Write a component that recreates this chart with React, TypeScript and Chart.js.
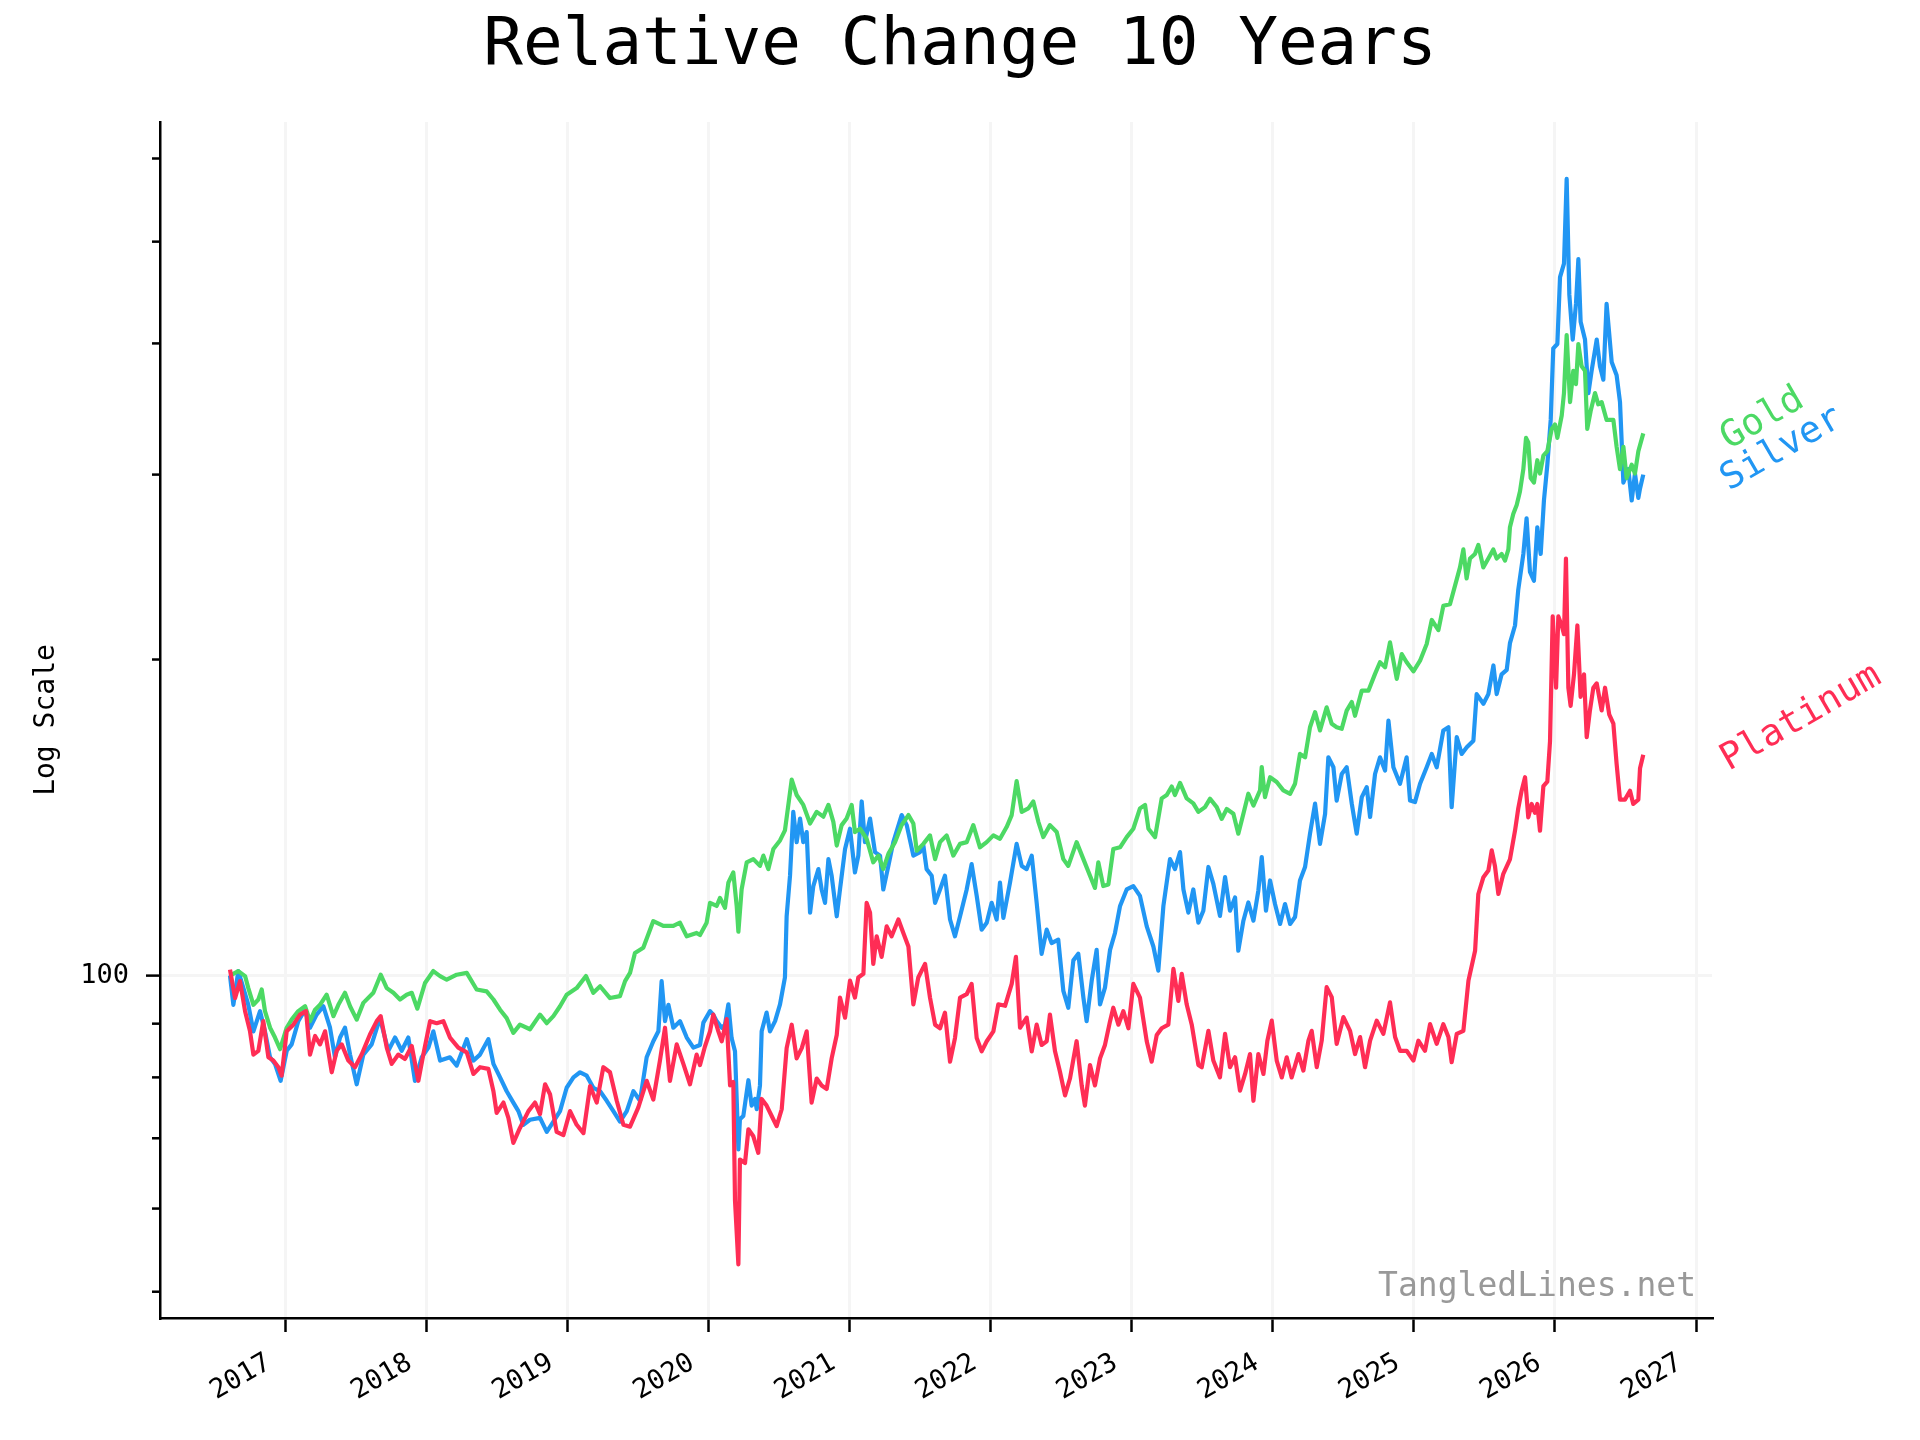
import React, { useEffect, useRef } from 'react';
import Chart from 'chart.js/auto';

const FONT = '"DejaVu Sans Mono", monospace';

// x axis: decimal years
const yearTicks = [2017, 2018, 2019, 2020, 2021, 2022, 2023, 2024, 2025, 2026, 2027];
// y axis: log scale, only the 100 line is labelled
const logTicks = [50, 60, 70, 80, 90, 100, 200, 300, 400, 500, 600];
const labelledTick = 100;

const metalNames = ['Gold', 'Silver', 'Platinum'];
const metalColors = ['#4cd964', '#2196f3', '#ff2d55'];

const goldDates = [
    2016.610, 2016.669, 2016.717, 2016.740, 2016.776, 2016.811, 2016.835, 2016.858, 2016.894, 2016.929,
    2016.965, 2017.012, 2017.047, 2017.094, 2017.142, 2017.177, 2017.213, 2017.248, 2017.295, 2017.343,
    2017.378, 2017.425, 2017.461, 2017.508, 2017.555, 2017.626, 2017.678, 2017.721, 2017.768, 2017.815,
    2017.862, 2017.898, 2017.938, 2017.992, 2018.051, 2018.099, 2018.146, 2018.217, 2018.288, 2018.358,
    2018.429, 2018.477, 2018.524, 2018.571, 2018.618, 2018.665, 2018.736, 2018.807, 2018.855, 2018.902,
    2018.949, 2018.996, 2019.067, 2019.133, 2019.185, 2019.233, 2019.303, 2019.374, 2019.410, 2019.445,
    2019.480, 2019.539, 2019.610, 2019.681, 2019.752, 2019.799, 2019.847, 2019.917, 2019.941, 2019.988,
    2020.012, 2020.059, 2020.083, 2020.118, 2020.142, 2020.177, 2020.201, 2020.213, 2020.236, 2020.272,
    2020.319, 2020.366, 2020.390, 2020.425, 2020.461, 2020.508, 2020.543, 2020.567, 2020.591, 2020.626,
    2020.673, 2020.721, 2020.768, 2020.815, 2020.851, 2020.886, 2020.910, 2020.945, 2020.980, 2021.016,
    2021.039, 2021.075, 2021.122, 2021.169, 2021.205, 2021.240, 2021.276, 2021.323, 2021.370, 2021.418,
    2021.453, 2021.477, 2021.524, 2021.571, 2021.607, 2021.642, 2021.689, 2021.736, 2021.784, 2021.831,
    2021.878, 2021.925, 2021.973, 2022.020, 2022.067, 2022.114, 2022.150, 2022.185, 2022.221, 2022.268,
    2022.303, 2022.339, 2022.374, 2022.421, 2022.469, 2022.516, 2022.551, 2022.610, 2022.658, 2022.705,
    2022.740, 2022.764, 2022.799, 2022.835, 2022.870, 2022.918, 2022.965, 2023.012, 2023.059, 2023.095,
    2023.119, 2023.166, 2023.213, 2023.249, 2023.284, 2023.307, 2023.343, 2023.390, 2023.437, 2023.473,
    2023.520, 2023.556, 2023.603, 2023.638, 2023.674, 2023.721, 2023.756, 2023.792, 2023.827, 2023.863,
    2023.910, 2023.922, 2023.945, 2023.981, 2024.028, 2024.075, 2024.123, 2024.158, 2024.193, 2024.229,
    2024.264, 2024.300, 2024.335, 2024.382, 2024.418, 2024.453, 2024.489, 2024.524, 2024.560, 2024.583,
    2024.631, 2024.678, 2024.725, 2024.760, 2024.796, 2024.831, 2024.879, 2024.914, 2024.949, 2024.997,
    2025.044, 2025.091, 2025.127, 2025.174, 2025.209, 2025.256, 2025.327, 2025.351, 2025.374, 2025.398,
    2025.433, 2025.457, 2025.492, 2025.528, 2025.563, 2025.587, 2025.622, 2025.646, 2025.670, 2025.681,
    2025.705, 2025.729, 2025.752, 2025.776, 2025.795, 2025.811, 2025.828, 2025.851, 2025.875, 2025.894,
    2025.918, 2025.946, 2025.977, 2026.000, 2026.017, 2026.048, 2026.064, 2026.083, 2026.107, 2026.130,
    2026.149, 2026.166, 2026.189, 2026.213, 2026.229, 2026.253, 2026.284, 2026.307, 2026.331, 2026.366,
    2026.414, 2026.437, 2026.461, 2026.485, 2026.508, 2026.544, 2026.567, 2026.591, 2026.626,
];
const goldValues = [
    100.0, 101.0, 99.9, 97.3, 93.8, 94.9, 97.0, 92.5, 89.2, 87.3,
    85.1, 89.2, 90.8, 92.5, 93.5, 90.5, 92.8, 93.8, 95.9, 91.5,
    93.8, 96.3, 93.5, 90.8, 94.2, 96.3, 100.2, 97.3, 96.3, 94.9,
    95.9, 96.3, 93.0, 98.4, 101.0, 99.9, 99.1, 100.2, 100.6, 97.0,
    96.6, 94.9, 92.8, 91.1, 88.2, 89.8, 88.9, 91.8, 90.1, 91.5,
    93.5, 95.9, 97.3, 99.9, 96.3, 97.7, 95.2, 95.6, 98.8, 100.6,
    105.1, 106.3, 112.7, 111.5, 111.5, 112.3, 109.0, 109.8, 109.3, 112.3,
    117.3, 116.5, 118.6, 116.0, 122.6, 125.4, 116.5, 110.1, 120.8, 128.2,
    129.1, 127.2, 130.1, 126.3, 132.0, 134.5, 137.5, 145.4, 153.7, 148.6,
    145.4, 139.6, 143.2, 141.7, 145.4, 140.1, 133.0, 139.1, 141.1, 145.4,
    137.0, 138.0, 135.0, 128.2, 130.1, 126.3, 130.6, 134.0, 139.1, 142.2,
    139.6, 131.5, 133.5, 136.0, 129.1, 134.0, 136.0, 130.1, 133.5, 134.0,
    139.1, 132.5, 134.0, 136.0, 135.0, 138.5, 142.2, 153.2, 143.2, 144.3,
    146.5, 140.1, 135.5, 139.1, 137.0, 129.1, 127.2, 134.0, 129.1, 124.5,
    121.2, 128.2, 121.7, 122.1, 132.0, 132.5, 135.5, 138.0, 144.3, 145.4,
    138.0, 135.5, 147.5, 148.6, 151.4, 148.6, 152.6, 147.5, 145.9, 143.2,
    144.7, 147.4, 144.7, 141.0, 144.1, 142.6, 136.5, 142.6, 149.0, 145.2,
    150.1, 158.0, 147.9, 154.5, 152.9, 150.1, 149.0, 152.3, 162.6, 161.4,
    172.4, 178.2, 171.2, 180.1, 173.7, 172.4, 171.8, 178.8, 182.2, 176.8,
    186.8, 186.8, 193.8, 198.8, 196.6, 207.7, 191.7, 202.4, 198.8, 194.9,
    199.5, 206.9, 218.1, 213.3, 225.0, 225.8, 244.8, 254.6, 238.9, 249.6,
    252.1, 257.1, 244.8, 249.6, 254.6, 249.6, 252.1, 248.4, 254.6, 267.3,
    275.3, 280.7, 289.1, 303.6, 325.2, 322.0, 297.7, 294.8, 309.6, 300.7,
    312.7, 315.8, 331.6, 334.9, 325.2, 341.5, 358.7, 407.4, 351.7, 376.7,
    365.8, 399.5, 380.4, 376.7, 331.6, 344.9, 358.7, 350.0, 351.7, 338.2,
    338.2, 318.9, 303.6, 318.9, 297.7, 306.6, 300.7, 315.8, 328.4,
];

const silverDates = [
    2016.610, 2016.634, 2016.669, 2016.705, 2016.740, 2016.776, 2016.823, 2016.858, 2016.894, 2016.929,
    2016.969, 2017.012, 2017.047, 2017.094, 2017.142, 2017.177, 2017.224, 2017.272, 2017.319, 2017.354,
    2017.390, 2017.425, 2017.461, 2017.508, 2017.555, 2017.614, 2017.673, 2017.732, 2017.780, 2017.827,
    2017.874, 2017.921, 2017.969, 2018.016, 2018.051, 2018.099, 2018.169, 2018.217, 2018.288, 2018.335,
    2018.382, 2018.441, 2018.477, 2018.524, 2018.571, 2018.618, 2018.654, 2018.689, 2018.736, 2018.807,
    2018.855, 2018.902, 2018.949, 2018.996, 2019.044, 2019.091, 2019.138, 2019.185, 2019.233, 2019.280,
    2019.327, 2019.374, 2019.422, 2019.469, 2019.516, 2019.563, 2019.610, 2019.646, 2019.669, 2019.693,
    2019.717, 2019.752, 2019.799, 2019.847, 2019.894, 2019.941, 2019.965, 2020.012, 2020.035, 2020.059,
    2020.095, 2020.118, 2020.142, 2020.165, 2020.189, 2020.201, 2020.213, 2020.224, 2020.248, 2020.284,
    2020.307, 2020.331, 2020.343, 2020.366, 2020.378, 2020.413, 2020.437, 2020.473, 2020.508, 2020.543,
    2020.555, 2020.579, 2020.602, 2020.626, 2020.650, 2020.673, 2020.697, 2020.721, 2020.744, 2020.780,
    2020.803, 2020.827, 2020.851, 2020.874, 2020.910, 2020.933, 2020.969, 2021.004, 2021.039, 2021.063,
    2021.087, 2021.110, 2021.146, 2021.181, 2021.217, 2021.240, 2021.276, 2021.311, 2021.370, 2021.406,
    2021.453, 2021.500, 2021.524, 2021.547, 2021.583, 2021.607, 2021.642, 2021.677, 2021.713, 2021.748,
    2021.784, 2021.831, 2021.866, 2021.902, 2021.937, 2021.973, 2022.008, 2022.043, 2022.067, 2022.091,
    2022.138, 2022.185, 2022.221, 2022.256, 2022.292, 2022.327, 2022.362, 2022.398, 2022.433, 2022.480,
    2022.516, 2022.551, 2022.587, 2022.622, 2022.658, 2022.681, 2022.717, 2022.752, 2022.776, 2022.811,
    2022.847, 2022.882, 2022.918, 2022.965, 2023.012, 2023.059, 2023.107, 2023.154, 2023.189, 2023.225,
    2023.272, 2023.307, 2023.343, 2023.367, 2023.402, 2023.437, 2023.473, 2023.508, 2023.544, 2023.579,
    2023.626, 2023.662, 2023.697, 2023.733, 2023.756, 2023.792, 2023.827, 2023.863, 2023.898, 2023.922,
    2023.952, 2023.981, 2024.016, 2024.052, 2024.087, 2024.123, 2024.158, 2024.193, 2024.229, 2024.264,
    2024.300, 2024.335, 2024.371, 2024.394, 2024.430, 2024.453, 2024.489, 2024.524, 2024.560, 2024.595,
    2024.631, 2024.666, 2024.690, 2024.725, 2024.760, 2024.796, 2024.820, 2024.855, 2024.902, 2024.949,
    2024.973, 2025.008, 2025.044, 2025.091, 2025.127, 2025.162, 2025.209, 2025.245, 2025.268, 2025.304,
    2025.339, 2025.375, 2025.422, 2025.445, 2025.493, 2025.528, 2025.564, 2025.587, 2025.622, 2025.658,
    2025.681, 2025.717, 2025.740, 2025.776, 2025.799, 2025.823, 2025.851, 2025.875, 2025.899, 2025.922,
    2025.946, 2025.970, 2025.988, 2026.017, 2026.036, 2026.064, 2026.083, 2026.102, 2026.126, 2026.149,
    2026.166, 2026.182, 2026.213, 2026.237, 2026.260, 2026.296, 2026.319, 2026.343, 2026.366, 2026.402,
    2026.437, 2026.461, 2026.485, 2026.520, 2026.544, 2026.567, 2026.591, 2026.603, 2026.626,
];
const silverValues = [
    100.0, 93.8, 101.0, 97.3, 93.8, 88.5, 92.5, 88.5, 83.6, 82.4,
    79.4, 84.8, 86.0, 90.5, 92.8, 89.2, 91.8, 93.5, 89.2, 83.6,
    87.3, 89.2, 84.1, 78.8, 84.1, 86.0, 91.1, 84.8, 87.3, 84.8,
    87.3, 79.4, 83.6, 85.4, 88.5, 83.0, 83.6, 82.1, 87.0, 83.0,
    84.1, 87.0, 82.4, 80.0, 77.6, 75.7, 74.3, 72.1, 72.9, 73.2,
    71.0, 72.6, 74.3, 78.2, 80.0, 80.9, 80.3, 78.2, 77.6, 76.0,
    74.3, 72.6, 74.3, 77.6, 76.0, 83.6, 86.6, 88.5, 98.8, 90.5,
    93.8, 89.2, 90.5, 87.3, 85.4, 85.9, 90.2, 92.5, 91.8, 90.5,
    89.2, 89.8, 93.9, 87.2, 84.7, 76.3, 68.3, 73.0, 73.5, 79.5,
    75.2, 76.3, 74.6, 78.6, 88.5, 92.2, 88.5, 90.5, 93.9, 99.6,
    113.9, 124.5, 143.2, 134.0, 141.1, 134.0, 137.0, 114.8, 121.7, 126.3,
    120.8, 117.3, 129.1, 124.5, 113.9, 120.8, 132.0, 138.0, 125.4, 130.1,
    146.5, 134.0, 141.1, 131.1, 130.1, 120.8, 127.2, 134.0, 142.2, 139.1,
    130.1, 131.1, 133.0, 126.3, 124.5, 117.3, 120.8, 124.5, 113.1, 109.0,
    113.9, 120.8, 127.7, 119.1, 110.6, 112.3, 117.3, 113.1, 122.6, 113.5,
    122.6, 133.5, 127.2, 126.3, 130.1, 117.3, 104.9, 110.6, 107.4, 108.2,
    96.7, 93.2, 103.4, 104.9, 95.3, 90.5, 98.9, 105.8, 93.9, 97.4,
    105.8, 109.8, 116.5, 120.8, 121.7, 119.1, 111.4, 106.6, 101.1, 116.5,
    129.1, 126.3, 131.1, 120.8, 114.8, 120.8, 112.3, 115.3, 126.9, 122.3,
    114.0, 124.1, 115.3, 118.7, 105.6, 112.8, 117.4, 112.8, 120.5, 129.7,
    115.3, 123.2, 117.0, 112.0, 117.0, 112.0, 113.7, 123.2, 126.9, 136.5,
    145.8, 133.5, 142.6, 161.4, 157.9, 146.8, 155.6, 157.9, 145.8, 136.5,
    147.9, 151.2, 141.6, 155.6, 161.4, 156.8, 174.9, 157.9, 152.3, 161.4,
    146.8, 146.3, 152.3, 157.9, 162.6, 157.9, 171.2, 172.4, 144.7, 168.7,
    162.6, 165.0, 167.4, 185.4, 181.5, 185.4, 197.4, 185.4, 193.6, 195.5,
    207.3, 215.5, 233.1, 252.1, 272.6, 242.4, 237.7, 267.3, 252.1, 283.5,
    306.6, 338.2, 395.6, 399.5, 462.6, 476.4, 573.7, 444.9, 403.4, 436.2,
    481.1, 419.5, 403.4, 358.7, 376.7, 403.4, 380.4, 369.4, 436.2, 384.1,
    373.0, 351.7, 294.8, 303.6, 283.5, 300.7, 285.0, 291.0, 300.0,
];

const platinumDates = [
    2016.610, 2016.646, 2016.681, 2016.717, 2016.752, 2016.776, 2016.811, 2016.846, 2016.882, 2016.917,
    2016.953, 2016.976, 2017.012, 2017.059, 2017.106, 2017.149, 2017.177, 2017.213, 2017.248, 2017.284,
    2017.331, 2017.366, 2017.402, 2017.449, 2017.496, 2017.543, 2017.602, 2017.650, 2017.678, 2017.721,
    2017.756, 2017.803, 2017.850, 2017.898, 2017.945, 2017.980, 2018.028, 2018.075, 2018.122, 2018.169,
    2018.228, 2018.288, 2018.335, 2018.382, 2018.441, 2018.477, 2018.500, 2018.548, 2018.583, 2018.618,
    2018.665, 2018.725, 2018.772, 2018.807, 2018.843, 2018.878, 2018.925, 2018.973, 2019.020, 2019.067,
    2019.115, 2019.162, 2019.209, 2019.256, 2019.303, 2019.351, 2019.398, 2019.445, 2019.504, 2019.563,
    2019.610, 2019.657, 2019.693, 2019.728, 2019.776, 2019.823, 2019.870, 2019.917, 2019.941, 2019.976,
    2020.012, 2020.035, 2020.071, 2020.095, 2020.130, 2020.154, 2020.177, 2020.189, 2020.213, 2020.224,
    2020.260, 2020.284, 2020.319, 2020.354, 2020.378, 2020.413, 2020.449, 2020.484, 2020.520, 2020.555,
    2020.591, 2020.626, 2020.662, 2020.697, 2020.732, 2020.768, 2020.803, 2020.839, 2020.874, 2020.910,
    2020.933, 2020.969, 2021.004, 2021.039, 2021.063, 2021.099, 2021.122, 2021.146, 2021.169, 2021.193,
    2021.228, 2021.264, 2021.299, 2021.347, 2021.382, 2021.418, 2021.453, 2021.488, 2021.536, 2021.571,
    2021.607, 2021.642, 2021.677, 2021.713, 2021.748, 2021.784, 2021.831, 2021.866, 2021.902, 2021.937,
    2021.973, 2022.020, 2022.055, 2022.103, 2022.150, 2022.180, 2022.209, 2022.256, 2022.292, 2022.327,
    2022.362, 2022.398, 2022.421, 2022.457, 2022.492, 2022.528, 2022.563, 2022.610, 2022.646, 2022.669,
    2022.705, 2022.740, 2022.776, 2022.811, 2022.847, 2022.870, 2022.906, 2022.941, 2022.977, 2023.012,
    2023.059, 2023.107, 2023.142, 2023.178, 2023.213, 2023.260, 2023.296, 2023.331, 2023.355, 2023.390,
    2023.426, 2023.473, 2023.497, 2023.544, 2023.579, 2023.626, 2023.662, 2023.697, 2023.733, 2023.768,
    2023.804, 2023.839, 2023.863, 2023.898, 2023.934, 2023.962, 2023.993, 2024.028, 2024.064, 2024.099,
    2024.134, 2024.182, 2024.217, 2024.253, 2024.276, 2024.312, 2024.347, 2024.382, 2024.418, 2024.453,
    2024.501, 2024.548, 2024.583, 2024.619, 2024.654, 2024.690, 2024.737, 2024.784, 2024.831, 2024.867,
    2024.902, 2024.949, 2024.997, 2025.032, 2025.079, 2025.115, 2025.162, 2025.209, 2025.245, 2025.268,
    2025.304, 2025.351, 2025.387, 2025.434, 2025.457, 2025.493, 2025.528, 2025.552, 2025.575, 2025.599,
    2025.634, 2025.681, 2025.717, 2025.740, 2025.764, 2025.788, 2025.811, 2025.835, 2025.858, 2025.875,
    2025.894, 2025.918, 2025.946, 2025.965, 2025.984, 2026.008, 2026.024, 2026.048, 2026.064, 2026.078,
    2026.095, 2026.111, 2026.135, 2026.159, 2026.182, 2026.206, 2026.225, 2026.248, 2026.272, 2026.296,
    2026.331, 2026.355, 2026.385, 2026.414, 2026.437, 2026.461, 2026.496, 2026.532, 2026.555, 2026.591,
    2026.603, 2026.626,
];
const platinumValues = [
    101.3, 95.2, 98.8, 92.5, 88.5, 84.1, 84.8, 90.5, 83.6, 83.0,
    81.8, 80.3, 88.5, 89.8, 91.8, 92.5, 84.1, 87.6, 86.0, 88.5,
    80.9, 84.8, 86.0, 83.0, 81.8, 84.1, 87.9, 90.5, 91.5, 85.4,
    82.4, 84.1, 83.3, 85.7, 79.4, 84.1, 90.5, 90.1, 90.5, 87.3,
    85.4, 84.5, 80.6, 81.8, 81.5, 77.6, 74.0, 75.7, 73.2, 69.3,
    71.6, 74.3, 75.7, 73.8, 78.8, 77.1, 71.0, 70.5, 74.3, 72.1,
    70.8, 78.5, 75.7, 81.8, 80.9, 76.0, 72.1, 71.8, 74.9, 79.4,
    76.2, 83.0, 89.2, 79.4, 86.0, 82.4, 78.8, 84.1, 82.2, 85.6,
    88.5, 91.8, 88.5, 86.6, 90.9, 78.6, 79.2, 61.1, 53.1, 66.8,
    66.3, 71.4, 70.3, 67.8, 76.3, 75.2, 73.5, 71.9, 74.6, 85.3,
    89.8, 83.4, 85.3, 88.5, 75.7, 79.8, 78.6, 78.0, 83.4, 87.8,
    95.3, 91.2, 98.9, 95.3, 99.6, 100.4, 117.3, 114.8, 102.6, 109.0,
    104.2, 111.4, 109.0, 113.1, 109.8, 106.6, 93.9, 99.6, 102.6, 95.3,
    89.8, 89.1, 92.2, 82.8, 87.2, 95.3, 96.0, 98.2, 87.2, 84.7,
    86.6, 88.5, 93.9, 93.6, 98.2, 104.2, 89.2, 91.2, 84.7, 89.8,
    85.9, 86.6, 91.8, 84.7, 81.0, 76.9, 79.8, 86.6, 78.6, 75.2,
    82.2, 78.6, 83.4, 85.9, 90.5, 93.2, 89.8, 92.5, 89.1, 98.2,
    95.3, 86.6, 82.8, 87.8, 89.1, 89.8, 101.5, 94.6, 100.4, 93.9,
    89.8, 82.2, 81.8, 88.6, 83.0, 80.0, 88.0, 81.8, 83.6, 77.7,
    80.6, 84.2, 76.0, 84.2, 80.6, 86.7, 90.6, 83.0, 80.0, 83.6,
    80.0, 84.2, 81.2, 86.7, 88.6, 81.8, 86.7, 97.5, 95.4, 86.1,
    91.3, 88.6, 84.2, 87.4, 81.8, 86.7, 90.6, 88.0, 94.3, 87.4,
    84.8, 84.8, 83.0, 86.7, 84.8, 89.9, 86.1, 89.9, 87.4, 82.7,
    88.0, 88.6, 98.9, 105.6, 119.6, 124.1, 125.9, 131.6, 127.1, 119.6,
    125.0, 129.0, 137.4, 144.3, 150.0, 154.5, 141.5, 145.7, 142.9, 145.7,
    137.4, 151.5, 153.0, 167.1, 219.8, 188.0, 219.8, 215.5, 211.4, 249.6,
    188.0, 180.7, 193.6, 215.5, 184.3, 193.6, 168.7, 178.9, 188.0, 189.8,
    178.9, 188.0, 177.2, 173.8, 159.1, 147.1, 147.1, 150.0, 145.7, 147.1,
    157.6, 162.3,
];

const seriesDates = [goldDates, silverDates, platinumDates];
const seriesValues = [goldValues, silverValues, platinumValues];
// platinum on top, silver at the bottom
const drawOrder = [1, 2, 0];

type Pt = { x: number; y: number };

// title, y tick marks (major/minor), end-of-line labels and the watermark
const chrome = {
    id: 'chrome',
    afterDraw(chart: Chart) {
        const { ctx, chartArea: area } = chart;
        const yScale = chart.scales.y;
        ctx.save();

        ctx.fillStyle = '#000';
        ctx.font = `66px ${FONT}`;
        ctx.textAlign = 'center';
        ctx.textBaseline = 'middle';
        ctx.fillText('Relative Change 10 Years', chart.width / 2, 47);

        ctx.strokeStyle = '#000';
        ctx.lineWidth = 2.5;
        logTicks.forEach((v) => {
            const py = yScale.getPixelForValue(v);
            const len = v === labelledTick ? 14 : 8;
            ctx.beginPath();
            ctx.moveTo(area.left - len, py);
            ctx.lineTo(area.left, py);
            ctx.stroke();
        });

        ctx.font = `37px ${FONT}`;
        ctx.textAlign = 'left';
        ctx.textBaseline = 'middle';
        chart.data.datasets.forEach((ds) => {
            const pts = ds.data as Pt[];
            const last = pts[pts.length - 1];
            ctx.save();
            ctx.translate(area.right + 12, yScale.getPixelForValue(last.y) + 8);
            ctx.rotate(-Math.PI / 6);
            ctx.fillStyle = ds.borderColor as string;
            ctx.fillText(ds.label as string, 0, 0);
            ctx.restore();
        });

        ctx.font = `33px ${FONT}`;
        ctx.fillStyle = '#999999';
        ctx.textAlign = 'right';
        ctx.textBaseline = 'alphabetic';
        ctx.fillText('TangledLines.net', area.right - 16, area.bottom - 22);
        ctx.restore();
    },
};

const MetalsChart: React.FC = () => {
    const canvasRef = useRef<HTMLCanvasElement>(null);
    const chartRef = useRef<Chart | null>(null);

    useEffect(() => {
        if (!canvasRef.current) return;
        document.body.style.margin = '0';

        const datasets = metalNames.map((name, i) => ({
            label: name,
            data: seriesDates[i].map((x, j) => ({ x, y: seriesValues[i][j] })),
            borderColor: metalColors[i],
            backgroundColor: metalColors[i],
            borderWidth: 4.2,
            borderJoinStyle: 'round' as const,
            pointRadius: 0,
            tension: 0,
            fill: false,
            order: drawOrder[i],
        }));

        chartRef.current = new Chart(canvasRef.current, {
            type: 'line',
            data: { datasets },
            plugins: [chrome],
            options: {
                responsive: false,
                animation: false,
                layout: { padding: { top: 122, right: 208, bottom: 0, left: 0 } },
                plugins: {
                    legend: { display: false },
                    title: { display: false },
                    tooltip: { enabled: false },
                },
                scales: {
                    x: {
                        type: 'linear',
                        min: 2016.114,
                        max: 2027.113,
                        afterFit: (s: any) => { s.height = 122; },
                        afterBuildTicks: (s: any) => { s.ticks = yearTicks.map((v) => ({ value: v })); },
                        grid: { color: '#f5f5f5', lineWidth: 3, tickColor: '#000', tickLength: 14, tickWidth: 2.5 },
                        border: { color: '#000', width: 2.5 },
                        ticks: {
                            autoSkip: false,
                            minRotation: 30,
                            maxRotation: 30,
                            padding: 15,
                            labelOffset: -16,
                            color: '#000',
                            font: { family: FONT, size: 27 },
                            callback: (v: any) => String(v),
                        },
                    },
                    y: {
                        type: 'logarithmic',
                        min: 47.2,
                        max: 650,
                        afterFit: (s: any) => { s.width = 160; },
                        afterBuildTicks: (s: any) => {
                            s.ticks = logTicks.map((v) => ({ value: v, major: v === labelledTick }));
                        },
                        grid: {
                            color: (c: any) => (c.tick && c.tick.value === labelledTick ? '#f5f5f5' : 'rgba(0,0,0,0)'),
                            lineWidth: 3,
                            tickLength: 14,
                            tickColor: 'rgba(0,0,0,0)',
                        },
                        border: { color: '#000', width: 2.5 },
                        ticks: {
                            autoSkip: false,
                            padding: 17,
                            color: '#000',
                            font: { family: FONT, size: 27 },
                            callback: (v: any) => (v === labelledTick ? String(v) : ''),
                        },
                        title: {
                            display: true,
                            text: 'Log Scale',
                            color: '#000',
                            font: { family: FONT, size: 28 },
                            padding: { top: 30, bottom: 0 },
                        },
                    },
                },
            },
        });

        return () => {
            if (chartRef.current) {
                chartRef.current.destroy();
                chartRef.current = null;
            }
        };
    }, []);

    return (
        <div style={{ width: 1920, height: 1440, background: '#fff' }}>
            <canvas ref={canvasRef} width={1920} height={1440} style={{ display: 'block' }}></canvas>
        </div>
    );
};

export default function App() {
    return <MetalsChart />;
}
